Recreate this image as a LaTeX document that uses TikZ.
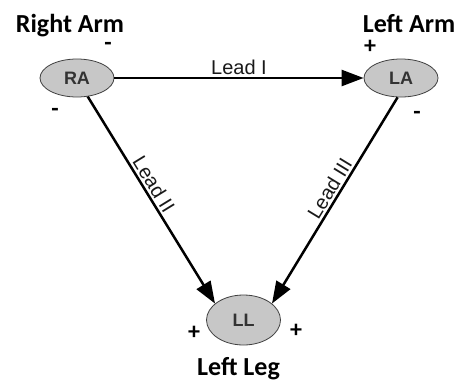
\documentclass[tikz,border=0pt]{standalone}
\usepackage{fontspec}
\setmainfont{Liberation Sans}
\newfontfamily\armfont{Carlito}
\usetikzlibrary{arrows.meta}
\usetikzlibrary{positioning}
\usetikzlibrary{shapes.geometric}
\tikzset{
  limb/.style={ellipse, draw=black!75, fill=black!22, line width=0.8pt,
    minimum width=74pt, minimum height=38pt, inner sep=0pt,
    font=\fontsize{18}{20}\selectfont\bfseries, text=black!80},
  lead/.style={line width=2.5pt, -{Triangle[length=22pt,width=16pt]}},
  leadname/.style={font=\fontsize{20}{22}\selectfont, text=black!90, inner sep=2pt},
  limbname/.style={font=\armfont\bfseries\fontsize{26}{28}\selectfont, anchor=base},
  sign/.style={font=\armfont\bfseries\fontsize{24}{26}\selectfont, inner sep=0pt}
}
\begin{document}
\begin{tikzpicture}[x=1pt,y=-1pt]
  \useasboundingbox (0,0) rectangle (457,383);
  \node[limb] (RA) at (77,78) {RA};
  \node[limb] (LA) at (401,78) {LA};
  \node[limb, minimum height=50pt] (LL) at (243.5,320) {LL};
  \draw[lead] (RA) -- node[leadname, above] (leadI) {Lead I} (LA);
  \draw[lead] (RA.-60) -- node[leadname, above, sloped, pos=0.45] (leadII) {Lead II} (LL.150);
  \draw[lead] (LA.-100) -- node[leadname, above, sloped, pos=0.47] (leadIII) {Lead III} (LL.30);
  \node[limbname] (rarm) at (70,32) {Right Arm};
  \node[limbname] (larm) at (409,32) {Left Arm};
  \node[limbname] (lleg) at (238.5,375) {Left Leg};
  \foreach \x/\y/\s/\n in {108/46/-/raup, 55/112/-/radown, 370/47/+/laup,
      417/115/-/ladown, 194/333/+/llleft, 296/331/+/llright}
    \node[sign] (\n) at (\x,\y) {\s};
\end{tikzpicture}
\end{document}
